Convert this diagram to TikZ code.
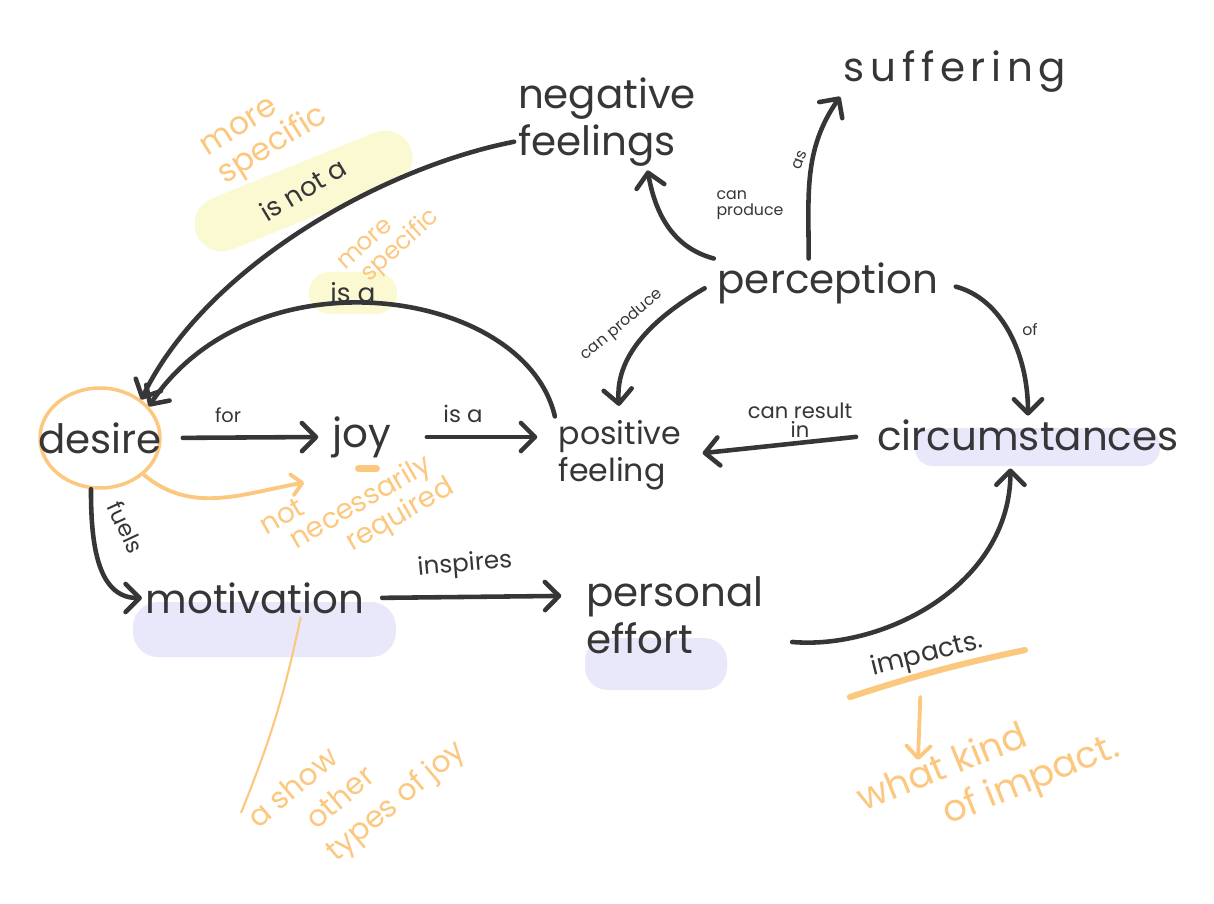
\documentclass[tikz,border=0pt]{standalone}
\usepackage{fontspec}
\setmainfont{Poppins}
\usetikzlibrary{arrows.meta,shapes.geometric}
\definecolor{ink}{HTML}{363638}
\definecolor{pen}{HTML}{FCC77E}
\definecolor{lemon}{HTML}{FBF9D2}
\definecolor{lilac}{HTML}{E9E8FB}
\tikzset{
  word/.style={font=\fontsize{23}{27}\selectfont, text=ink, inner sep=2pt, align=left},
  tag/.style={font=\fontsize{13}{13}\selectfont, text=ink, inner sep=1pt, align=center},
  tiny/.style={font=\fontsize{9}{9}\selectfont, text=ink, inner sep=1pt, align=left},
  link/.style={draw=ink, line width=2.6pt, line cap=round, -{Straight Barb[length=8pt,width=16pt,round]}},
  note/.style={font=\fontsize{15}{14}\selectfont, text=pen, align=left, inner sep=1pt},
  hint/.style={draw=pen, line width=2.2pt, line cap=round},
}
\begin{document}
\begin{tikzpicture}[x=0.02cm, y=-0.02cm]
\useasboundingbox (0,0) rectangle (1214,903);

% highlights
\fill[lilac, rounded corners=0.5cm] (133,602) rectangle (396,657);
\fill[lilac, rounded corners=0.45cm] (585,638) rectangle (727,690);
\fill[lilac, rounded corners=0.35cm] (915,428) rectangle (1160,466);
\draw[lemon, line width=1.1cm, line cap=round] (222,224) -- (385,158);
\draw[lemon, line width=0.85cm, line cap=round] (330,293) -- (376,293);

% concepts
\node[word] (neg) at (607,122) {negative\\feelings};
\node[word, font=\fontsize{23}{27}\selectfont\addfontfeatures{LetterSpace=14}] (suff) at (955,72) {suffering};
\node[word] (perc) at (828,283) {perception};
\node[word, ellipse, draw=pen, line width=2pt, minimum width=2.4cm, minimum height=2cm, inner sep=0pt] (desire) at (100,438) {\makebox[0pt]{desire}};
\node[word, inner xsep=8pt] (joy) at (362,437) {joy};
\node[word, font=\fontsize{18}{21}\selectfont] (pos) at (620,455) {positive\\feeling};
\node[word] (circ) at (1028,435) {circumstances};
\node[word] (motiv) at (255,598) {motivation};
\node[word] (effort) at (675,615) {personal\\effort};

% links
\draw[link] (neg.192) .. controls (380,168) and (205,268) .. (desire.43);
\draw[link] (pos.north west) .. controls (525,288) and (255,248) .. (desire.33);
\draw[link, shorten <=12pt] (desire.east) -- (joy.west);
\draw[link, shorten <=12pt, shorten >=10pt] (joy.east) -- (joy.east -| pos.west);
\draw[link] (desire.-100) to[out=-90, in=180] (motiv.west);
\draw[link, shorten <=8pt, shorten >=12pt] (motiv.east) -- ([yshift=11pt]effort.west);
\draw[link, shorten <=14pt] (effort.-15) to[out=-5, in=-90] ([shift={(-10pt,-8pt)}]circ.south);
\draw[link] (perc.north west) to[out=165, in=-80] (neg.-50);
\draw[link] ([xshift=-11pt]perc.north) to[out=90, in=-125] (suff.south west);
\draw[link, shorten <=6pt, shorten >=6pt] (perc.west) to[out=210, in=95] (pos.north);
\draw[link, shorten <=8pt] (perc.east) to[out=-15, in=90] (circ.north);
\draw[link, shorten <=10pt, shorten >=10pt] (circ.west) -- (pos.east);

% link labels
\node[tag, font=\fontsize{15}{15}\selectfont, rotate=31] (lnot) at (303,189) {is not a};
\node[tag, font=\fontsize{15}{15}\selectfont] (lisa) at (353,293) {is a};
\node[tag, font=\fontsize{11}{11}\selectfont] (lfor) at (228,415) {for};
\node[tag] (lisb) at (463,414) {is a};
\node[tag, rotate=-65] (lfuel) at (126,527) {fuels};
\node[tag, font=\fontsize{14}{14}\selectfont, rotate=5] (linsp) at (465,565) {inspires};
\node[tag, font=\fontsize{15}{15}\selectfont, rotate=14] (limp) at (927,655) {impacts.};
\node[tiny] (lcp) at (750,205) {can\\produce};
\node[tiny, rotate=70] (las) at (800,160) {as};
\node[tiny, rotate=40] (lcpb) at (622,325) {can produce};
\node[tiny] (lof) at (1030,330) {of};
\node[tag, font=\fontsize{12}{11}\selectfont] (lres) at (800,420) {can result\\in};

% notes
\node[note, font=\fontsize{18}{19}\selectfont, rotate=32] (spec) at (266,134) {more\\specific};
\node[note, font=\fontsize{14}{14}\selectfont, rotate=42] (specb) at (390,242) {more\\\hspace*{6pt}specific};
\node[note, font=\fontsize{16}{15}\selectfont, rotate=30] (need) at (358,509) {not\\\hspace*{11pt}necessarily\\\hspace*{38pt}required};
\node[note, font=\fontsize{17}{21.5}\selectfont, rotate=40] (show) at (358,786) {a show\\\hspace*{25pt}other\\\hspace*{22pt}types of joy};
\node[note, font=\fontsize{21}{25}\selectfont, rotate=22] (kind) at (989,775) {what kind\\\hspace*{42pt}of impact.};
\coordinate (ul) at (850,697);
\coordinate (ur) at (1025,650);
\coordinate (kindtop) at (918,760);

\draw[hint, -{Straight Barb[length=6pt,width=12pt,round]}] (desire.-40) to[out=-40, in=190] ([shift={(-8pt,-12pt)}]joy.south west);
\draw[draw=pen, line width=4pt, line cap=round] ([shift={(-2pt,-4pt)}]joy.south) -- ++(18,0);
\draw[hint, line width=1.2pt] ([xshift=26pt]motiv.south) to[bend left=5] (show.north west);
\draw[hint, line width=3.5pt] (ul) to[bend left=3] (ur);
\draw[hint, -{Straight Barb[length=7pt,width=14pt,round]}] ([xshift=40pt]ul) -- (kindtop);
\end{tikzpicture}
\end{document}
